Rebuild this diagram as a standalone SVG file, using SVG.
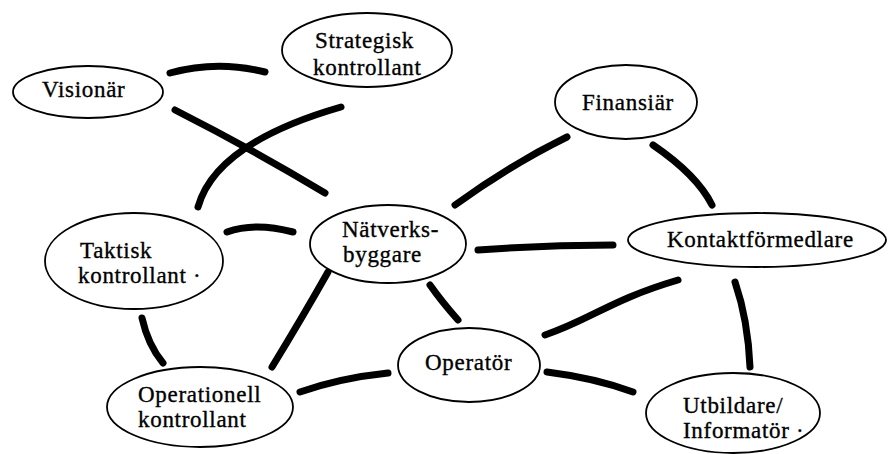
<svg xmlns="http://www.w3.org/2000/svg" width="888" height="454" viewBox="0 0 888 454">
  <style>
    .node ellipse { fill: #ffffff; stroke: #000000; stroke-width: 1.8; }
    .node text { font-family: "Liberation Serif", "Times New Roman", serif; font-size: 23px; letter-spacing: 0.7px; fill: #000000; stroke: #000000; stroke-width: 0.35; }
    #connectors path { fill: none; stroke: #000000; stroke-width: 7; stroke-linecap: round; stroke-linejoin: round; }
  </style>
  <rect width="888" height="454" fill="#ffffff"/>

  <!-- thick hand-drawn links between the roles -->
  <g id="connectors">
    <path d="M170,73 Q217,60 265,72"/>
    <path d="M175,110 Q250,148 325,193"/>
    <path d="M341,107 Q216,143 198,207"/>
    <path d="M567,137 Q510,165 455,205"/>
    <path d="M653,145 Q697,175 712,205"/>
    <path d="M227,232 Q255,222 293,232"/>
    <path d="M478,250 Q545,245 613,245"/>
    <path d="M328,272 Q302,318 272,367"/>
    <path d="M430,285 Q442,302 458,320"/>
    <path d="M142,318 Q148,345 163,363"/>
    <path d="M300,392 Q340,378 388,373"/>
    <path d="M545,335 C590,320 610,300 678,280"/>
    <path d="M547,372 Q595,378 633,392"/>
    <path d="M735,282 Q748,320 750,367"/>
  </g>

  <g id="visionar" class="node">
    <ellipse cx="88" cy="92" rx="75" ry="26"/>
    <text x="42" y="97">Visionär</text>
  </g>

  <g id="strategisk-kontrollant" class="node">
    <ellipse cx="367" cy="50" rx="85" ry="37"/>
    <text x="315" y="48">Strategisk</text>
    <text x="313" y="75">kontrollant</text>
  </g>

  <g id="finansiar" class="node">
    <ellipse cx="626" cy="102" rx="71" ry="37"/>
    <text x="582" y="110">Finansiär</text>
  </g>

  <g id="taktisk-kontrollant" class="node">
    <ellipse cx="134" cy="261" rx="89" ry="48"/>
    <text x="80" y="258">Taktisk</text>
    <text x="78" y="283">kontrollant ·</text>
  </g>

  <g id="natverksbyggare" class="node">
    <ellipse cx="388" cy="244" rx="78" ry="39"/>
    <text x="342" y="237">Nätverks-</text>
    <text x="343" y="262">byggare</text>
  </g>

  <g id="kontaktformedlare" class="node">
    <ellipse cx="757" cy="240" rx="129" ry="27"/>
    <text x="667" y="247">Kontaktförmedlare</text>
  </g>

  <g id="operator" class="node">
    <ellipse cx="469" cy="365" rx="71" ry="37"/>
    <text x="425" y="370">Operatör</text>
  </g>

  <g id="operationell-kontrollant" class="node">
    <ellipse cx="200" cy="407" rx="93" ry="40"/>
    <text x="138" y="402">Operationell</text>
    <text x="138" y="427">kontrollant</text>
  </g>

  <g id="utbildare-informator" class="node">
    <ellipse cx="733" cy="413" rx="87" ry="40"/>
    <text x="683" y="413">Utbildare/</text>
    <text x="683" y="438">Informatör ·</text>
  </g>
</svg>
